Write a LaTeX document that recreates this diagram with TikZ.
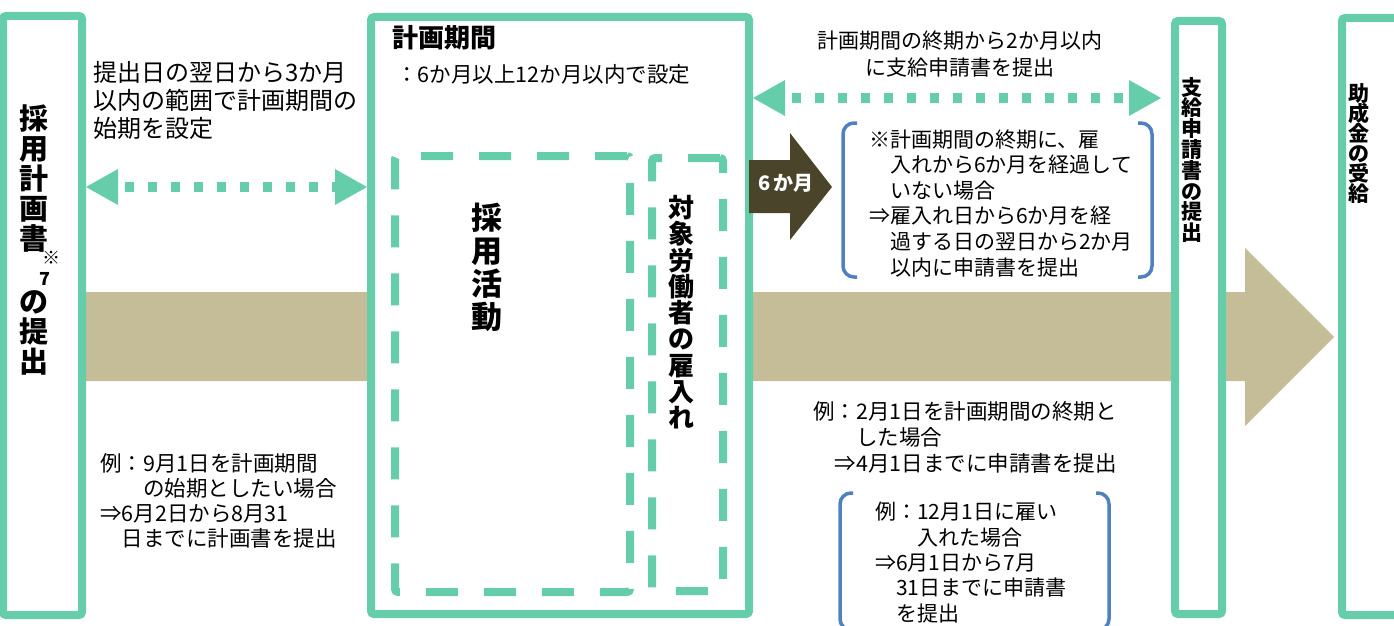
\documentclass[tikz,border=0pt]{standalone}
\usepackage{fontspec}
\setmainfont{Noto Sans CJK JP}
\usetikzlibrary{arrows.meta}
\definecolor{grn}{HTML}{66CDAA}
\definecolor{tanbar}{HTML}{C4BD97}
\definecolor{darkarrow}{HTML}{4A452A}
\definecolor{blu}{HTML}{4F81BD}
\newcommand{\fsz}[2]{\fontsize{#1}{#2}\selectfont\lineskiplimit=-100pt\relax}
\begin{document}
\begin{tikzpicture}[x=1pt,y=-1pt,
  frame/.style={draw=grn, line width=8pt, fill=white, rounded corners=3pt, inner sep=0pt},
  dbox/.style={draw=grn, line width=8pt, dash pattern=on 32pt off 26pt, rounded corners=3pt, inner sep=0pt},
  dotarrow/.style={draw=grn, line width=10pt, dash pattern=on 9pt off 14pt, dash phase=16pt,
    arrows={Triangle[length=32pt,width=36pt,line width=0pt]-Triangle[length=32pt,width=36pt,line width=0pt]}},
  bracket/.style={draw=blu, line width=3.5pt, rounded corners=11pt},
  txt/.style={inner sep=0pt, anchor=base west, align=left},
  vtxt/.style={inner sep=0pt, anchor=north, align=center},
]
\useasboundingbox (0,0) rectangle (1394,626);
\clip (0,0) rectangle (1394,626);
% timeline arrow
\fill[tanbar] (86,292) -- (1245,292) -- (1245,248) -- (1334,337) -- (1245,426) -- (1245,381) -- (86,381) -- cycle;
% main boxes
\node[frame, minimum width=79pt, minimum height=599pt] (L) at (42.5,315.5) {};
\node[frame, minimum width=378pt, minimum height=597pt] (K) at (560,315.5) {};
\node[frame, minimum width=47pt, minimum height=593pt] (S) at (1198.5,317.5) {};
\node[frame, minimum width=78pt, minimum height=597pt] (R) at (1381,316.5) {};
% dashed boxes
\node[dbox, minimum width=235pt, minimum height=436pt] (A) at (512.5,374) {};
\node[dbox, minimum width=71pt, minimum height=433pt] (B) at (687.5,374.5) {};
% dotted arrows
\coordinate (ya) at (0,187);
\draw[dotarrow] (L.east |- ya) -- (K.west |- ya);
\coordinate (yb) at (0,98);
\draw[dotarrow, shorten >=10pt] (K.east |- yb) -- (S.west |- yb);
% 6 months arrow
\fill[darkarrow] (749,160) -- (790,160) -- (790,133) -- (832,187) -- (790,240) -- (790,213) -- (749,213) -- cycle;
\node[text=white, font=\bfseries\fsz{20}{20}, inner sep=0pt, anchor=base] (six) at (786,190) {6\,か月};
% brackets
\draw[bracket] (857,123) -- (843,123) -- (843,277) -- (857,277);
\draw[bracket] (1138,123) -- (1152,123) -- (1152,277) -- (1138,277);
\draw[bracket] (853,493) -- (840,493) -- (840,630) -- (853,630);
\draw[bracket] (1096,493) -- (1109,493) -- (1109,630) -- (1096,630);
% texts (base anchor = baseline of the last line)
\node[txt, font=\fsz{24}{28}] (t1) at (93,137) {提出日の翌日から3か月\\以内の範囲で計画期間の\\始期を設定};
\node[txt, font=\bfseries\fsz{26}{26}] (t2) at (392,48) {計画期間};
\node[txt, font=\fsz{21.5}{25}] (t3) at (396,82) {：6か月以上12か月以内で設定};
\node[inner sep=0pt, anchor=base, align=center, font=\fsz{21}{27}] (t4) at (960,75) {計画期間の終期から2か月以内\\に支給申請書を提出};
\node[txt, font=\fsz{21}{25.6}] (t5) at (869,275) {※計画期間の終期に、雇\\　入れから6か月を経過して\\　いない場合\\⇒雇入れ日から6か月を経\\　過する日の翌日から2か月\\　以内に申請書を提出};
\node[txt, font=\fsz{21.5}{26}] (t6) at (813,471) {例：2月1日を計画期間の終期と\\　　した場合\\　⇒4月1日までに申請書を提出};
\node[txt, font=\fsz{21}{25.3}] (t7) at (875,621) {例：12月1日に雇い\\　　入れた場合\\⇒6月1日から7月\\　31日までに申請書\\　を提出};
\node[txt, font=\fsz{21.5}{25}] (t8) at (100,546) {例：9月1日を計画期間\\　　の始期としたい場合\\⇒6月2日から8月31\\　日までに計画書を提出};
% vertical texts
\node[vtxt, font=\bfseries\fsz{29}{30}] (v1a) at (34,105) {採\\用\\計\\画\\書};
\node[inner sep=0pt, font=\bfseries\fsz{18}{18}] (v1b) at (51,258) {※};
\node[inner sep=0pt, font=\bfseries\fsz{18}{18}] (v1c) at (45,279) {7};
\node[vtxt, font=\bfseries\fsz{29}{30}] (v1d) at (34,290) {の\\提\\出};
\node[vtxt, font=\bfseries\fsz{31}{33}] (v2) at (487,203) {採\\用\\活\\動};
\node[vtxt, font=\bfseries\fsz{26}{26.3}] (v3) at (681,195) {対\\象\\労\\働\\者\\の\\雇\\入\\れ};
\node[vtxt, font=\bfseries\fsz{21}{20.8}] (v4) at (1192,77) {支\\給\\申\\請\\書\\の\\提\\出};
\node[vtxt, font=\bfseries\fsz{21}{20}] (v5) at (1359,83) {助\\成\\金\\の\\受\\給};
\end{tikzpicture}
\end{document}
